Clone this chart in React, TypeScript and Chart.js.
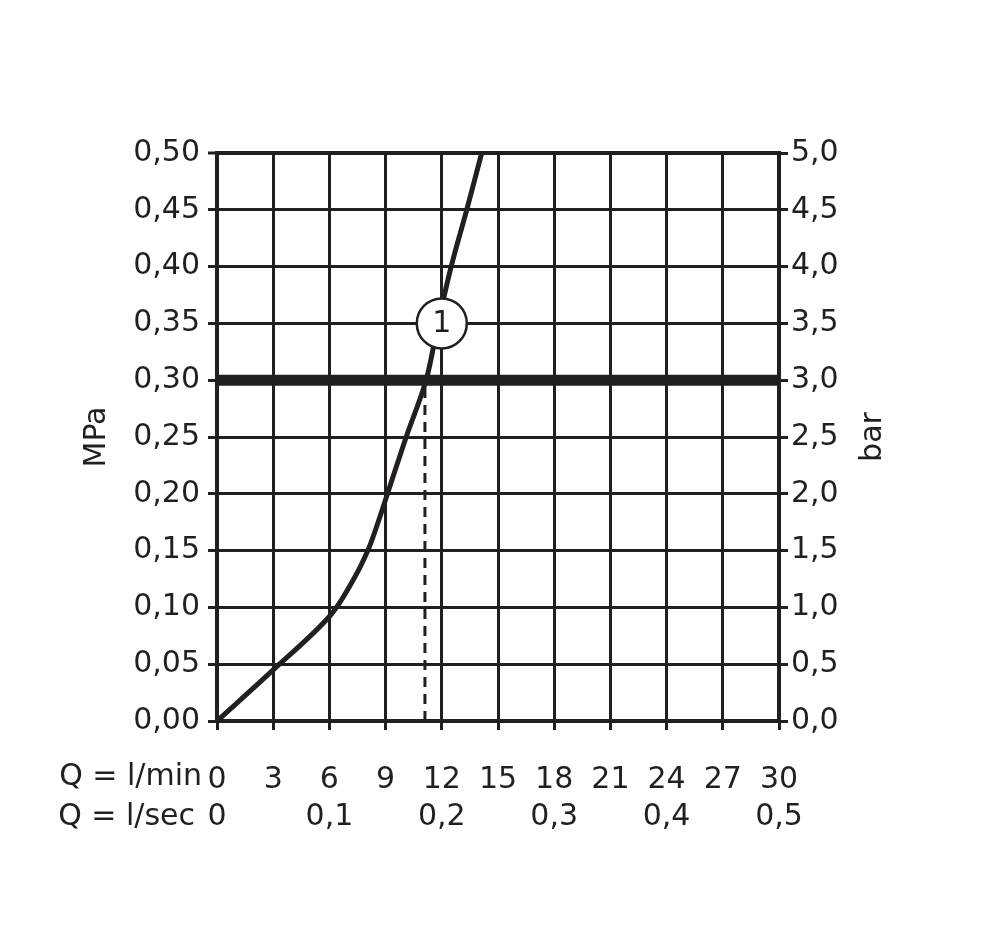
import React, { useEffect, useRef } from 'react';
import { Chart, registerables } from 'chart.js';

Chart.register(...registerables);

// ---- data ----
const flowLpm = [0, 3, 6.0, 7.3, 8.05, 8.6, 9.1, 10.1, 11.16, 11.8, 12.5, 13.33, 14.13];
const pressureMpa = [0, 0.045, 0.092, 0.125, 0.15, 0.175, 0.2, 0.25, 0.3, 0.35, 0.4, 0.45, 0.5];

const limitX = [0, 30];
const limitY = [0.3, 0.3];

const dropX = [11.1, 11.1];
const dropY = [0, 0.3];

const markerX = [12];
const markerY = [0.35];
const markerLabels = ['1'];

const mpaTickLabels = ['0,00', '0,05', '0,10', '0,15', '0,20', '0,25', '0,30', '0,35', '0,40', '0,45', '0,50'];
const barTickLabels = ['0,0', '0,5', '1,0', '1,5', '2,0', '2,5', '3,0', '3,5', '4,0', '4,5', '5,0'];
const lpmTickLabels = ['0', '3', '6', '9', '12', '15', '18', '21', '24', '27', '30'];
const lpsTickLabels = ['0', '0,1', '0,2', '0,3', '0,4', '0,5'];

const leftTitle = 'MPa';
const rightTitle = 'bar';
const lpmPrefix = 'Q = l/min';
const lpsPrefix = 'Q = l/sec';

const INK = '#231f20';
const FONT_FAMILY = '"DejaVu Sans", sans-serif';
const FONT_SIZE = 30;

const textPlugin = {
  id: 'textPlugin',
  afterDatasetsDraw(chart: any) {
    const ctx = chart.ctx;
    const meta = chart.getDatasetMeta(0);
    ctx.save();
    ctx.fillStyle = INK;
    ctx.font = `${FONT_SIZE}px ${FONT_FAMILY}`;
    ctx.textAlign = 'center';
    ctx.textBaseline = 'middle';
    meta.data.forEach((pt: any, i: number) => {
      ctx.fillText(markerLabels[i], pt.x, pt.y + 1);
    });
    ctx.restore();
  },
  afterDraw(chart: any) {
    const ctx = chart.ctx;
    const { left, right, top, bottom } = chart.chartArea;
    const yMid = (top + bottom) / 2;
    ctx.save();
    ctx.fillStyle = INK;
    ctx.font = `${FONT_SIZE}px ${FONT_FAMILY}`;
    ctx.textAlign = 'center';
    ctx.textBaseline = 'middle';
    ctx.save();
    ctx.translate(left - 120, yMid);
    ctx.rotate(-Math.PI / 2);
    ctx.fillText(leftTitle, 0, 0);
    ctx.restore();
    ctx.save();
    ctx.translate(right + 94, yMid);
    ctx.rotate(-Math.PI / 2);
    ctx.fillText(rightTitle, 0, 0);
    ctx.restore();

    ctx.textAlign = 'right';
    const xs = chart.scales.x;
    const xs2 = chart.scales.x2;
    ctx.fillText(lpmPrefix, left - 15, xs.top + 56);
    ctx.fillText(lpsPrefix, left - 22, xs2.top + 21);
    ctx.restore();
  },
};

export default function App() {
  const canvasRef = useRef<HTMLCanvasElement | null>(null);

  useEffect(() => {
    const canvas = canvasRef.current;
    if (!canvas) return;
    const tickFont = { family: FONT_FAMILY, size: FONT_SIZE };

    const chart = new Chart(canvas, {
      type: 'scatter',
      data: {
        datasets: [
          {
            label: 'marker',
            data: markerX.map((x, i) => ({ x, y: markerY[i] })),
            pointRadius: 25,
            pointHoverRadius: 25,
            pointBackgroundColor: '#ffffff',
            pointBorderColor: INK,
            pointBorderWidth: 2.5,
            showLine: false,
          },
          {
            label: 'curve',
            data: flowLpm.map((x, i) => ({ x, y: pressureMpa[i] })),
            showLine: true,
            borderColor: INK,
            borderWidth: 5,
            pointRadius: 0,
            tension: 0.35,
            clip: 4,
          },
          {
            label: 'drop',
            data: dropX.map((x, i) => ({ x, y: dropY[i] })),
            showLine: true,
            borderColor: INK,
            borderWidth: 3,
            borderDash: [10, 7],
            pointRadius: 0,
          },
          {
            label: 'limit',
            data: limitX.map((x, i) => ({ x, y: limitY[i] })),
            showLine: true,
            borderColor: INK,
            borderWidth: 11,
            pointRadius: 0,
          },
        ],
      },
      options: {
        animation: false,
        responsive: false,
        events: [],
        layout: { padding: { top: 153, left: 0, right: 0, bottom: 0 } },
        plugins: {
          legend: { display: false },
          tooltip: { enabled: false },
        },
        scales: {
          x: {
            type: 'linear',
            position: 'bottom',
            weight: 0,
            min: 0,
            max: 30,
            ticks: {
              stepSize: 3,
              color: INK,
              font: tickFont,
              padding: 32,
              maxRotation: 0,
              autoSkip: false,
              callback: (v: any) => lpmTickLabels[Math.round(Number(v) / 3)],
            },
            grid: { color: INK, lineWidth: 3, tickLength: 9, tickWidth: 3 },
            border: { display: true, color: INK, width: 4 },
            afterFit: (s: any) => { s.height = 75; },
          },
          x2: {
            type: 'linear',
            position: 'bottom',
            weight: 1,
            min: 0,
            max: 0.5,
            ticks: {
              stepSize: 0.1,
              color: INK,
              font: tickFont,
              padding: 3,
              maxRotation: 0,
              autoSkip: false,
              callback: (v: any) => lpsTickLabels[Math.round(Number(v) / 0.1)],
            },
            grid: { display: false, drawTicks: false },
            border: { display: false },
            afterFit: (s: any) => { s.height = 136; },
          },
          y: {
            type: 'linear',
            position: 'left',
            min: 0,
            max: 0.5,
            ticks: {
              stepSize: 0.05,
              color: INK,
              font: tickFont,
              padding: 8,
              autoSkip: false,
              callback: (v: any) => mpaTickLabels[Math.round(Number(v) / 0.05)],
            },
            grid: {
              color: INK,
              lineWidth: (c: any) => (c.tick && Math.abs(c.tick.value - 0.5) < 1e-6 ? 4 : 3),
              tickLength: 9,
              tickWidth: 3,
            },
            border: { display: true, color: INK, width: 4 },
            afterFit: (s: any) => { s.width = 217; },
          },
          y2: {
            type: 'linear',
            position: 'right',
            min: 0,
            max: 5,
            ticks: {
              stepSize: 0.5,
              color: INK,
              font: tickFont,
              padding: 3,
              autoSkip: false,
              callback: (v: any) => barTickLabels[Math.round(Number(v) / 0.5)],
            },
            grid: { color: INK, drawOnChartArea: false, tickLength: 9, lineWidth: 3 },
            border: { display: true, color: INK, width: 4 },
            afterFit: (s: any) => { s.width = 221; },
          },
        },
      },
      plugins: [textPlugin],
    } as any);

    return () => chart.destroy();
  }, []);

  return (
    <div style={{ position: 'absolute', left: 0, top: 0, width: 1000, height: 932, background: '#fff' }}>
      <canvas ref={canvasRef} width={1000} height={932} style={{ display: 'block' }} />
    </div>
  );
}
